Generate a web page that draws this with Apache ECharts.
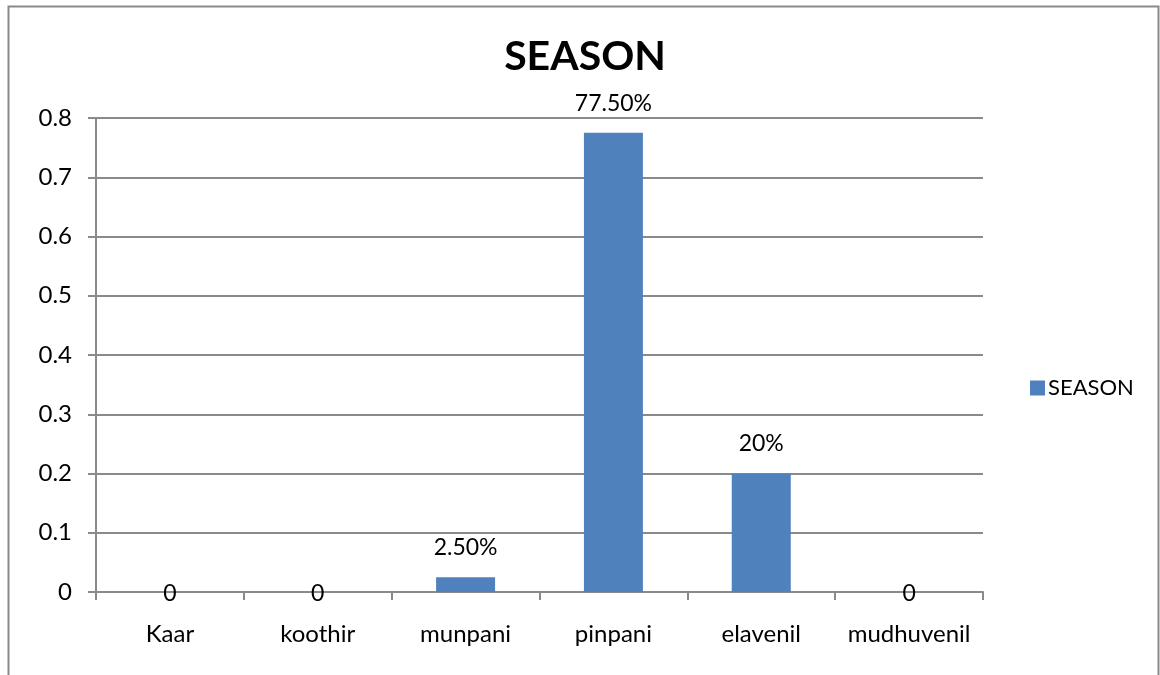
<!DOCTYPE html>
<html>
<head>
<meta charset="utf-8">
<script src="https://cdn.jsdelivr.net/npm/echarts@6/dist/echarts.min.js"></script>
<style>
  html, body { margin: 0; padding: 0; background: #fff; }
  #chart { width: 1160px; height: 675px; }
</style>
</head>
<body>
<div id="chart"></div>
<script>
// Season share by category
const categories = ['Kaar', 'koothir', 'munpani', 'pinpani', 'elavenil', 'mudhuvenil'];
const seasonValues = [0, 0, 0.025, 0.775, 0.2, 0];
const valueLabels = ['0', '0', '2.50%', '77.50%', '20%', '0'];
const yTicks = { min: 0, max: 0.8, interval: 0.1 };

const FONT = 'Lato, "Open Sans", sans-serif';
const GRAY = '#8a8a8a';

const chart = echarts.init(document.getElementById('chart'));

const barData = seasonValues.map((v, i) => {
  const item = { value: v };
  if (v === 0) {
    // zero bars: the label sits across the axis line
    item.label = { position: 'top', distance: -13 };
  }
  return item;
});

chart.setOption({
  animation: false,
  backgroundColor: '#fff',
  textStyle: { fontFamily: FONT },
  title: {
    text: 'SEASON',
    left: 580,
    textAlign: 'center',
    top: 31,
    textStyle: { fontFamily: FONT, fontSize: 41, fontWeight: 'bold', color: '#000' }
  },
  legend: {
    data: ['SEASON'],
    orient: 'vertical',
    left: 1025,
    top: 372,
    itemWidth: 15,
    itemHeight: 15,
    itemGap: 8,
    icon: 'rect',
    textStyle: { fontFamily: FONT, fontSize: 22, color: '#000', padding: [0, 0, 0, -2] }
  },
  graphic: [{
    type: 'rect',
    shape: { x: 8.5, y: 6.5, width: 1150, height: 720 },
    style: { fill: 'none', stroke: GRAY, lineWidth: 2 },
    silent: true
  }],
  grid: { left: 96, top: 118, width: 887, height: 474, containLabel: false },
  xAxis: {
    type: 'category',
    data: categories,
    axisLine: { show: true, lineStyle: { color: GRAY, width: 2 } },
    axisTick: { show: true, interval: 0, length: 8, lineStyle: { color: GRAY, width: 2 } },
    axisLabel: { interval: 0, margin: 30, fontFamily: FONT, fontSize: 24, color: '#000' }
  },
  yAxis: {
    type: 'value',
    min: yTicks.min,
    max: yTicks.max,
    interval: yTicks.interval,
    axisLine: { show: true, lineStyle: { color: GRAY, width: 2 } },
    axisTick: { show: true, length: 8, lineStyle: { color: GRAY, width: 2 } },
    splitLine: { show: true, lineStyle: { color: GRAY, width: 2 } },
    axisLabel: {
      margin: 24,
      fontFamily: FONT,
      fontSize: 24,
      color: '#000',
      formatter: v => (v === 0 ? '0' : v.toFixed(1))
    }
  },
  series: [{
    name: 'SEASON',
    type: 'bar',
    data: barData,
    barWidth: 59,
    itemStyle: { color: '#4F81BD' },
    label: {
      show: true,
      position: 'top',
      distance: 18,
      fontFamily: FONT,
      fontSize: 23,
      color: '#000',
      formatter: p => valueLabels[p.dataIndex]
    }
  }]
});
</script>
</body>
</html>
